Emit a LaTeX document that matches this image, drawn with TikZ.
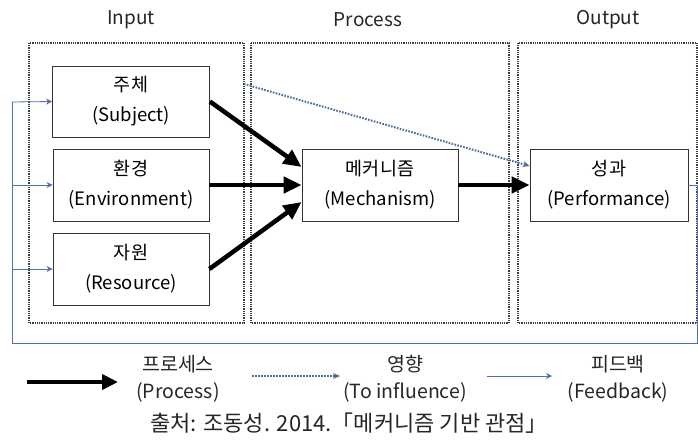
\documentclass[tikz,border=0pt]{standalone}
\usepackage{fontspec}
\setmainfont{Noto Sans CJK KR}
\usetikzlibrary{arrows.meta,calc}
\definecolor{fbblue}{RGB}{84,112,170}
\definecolor{infblue}{RGB}{80,110,155}
\definecolor{framegray}{RGB}{60,60,70}
\tikzset{
  stagebox/.style={draw=framegray,line width=1.5pt,dash pattern=on 1pt off 0.8pt},
  itembox/.style={draw=black!80,line width=0.8pt,fill=white,minimum width=156pt,minimum height=72pt,
    align=center,font=\fontsize{18.5}{30}\selectfont,inner sep=0pt},
  heading/.style={font=\fontsize{19}{22}\selectfont,text=black!85},
  process/.style={line width=4.5pt,-{Triangle[length=18pt,width=16pt]},black},
  influence/.style={infblue,line width=2pt,dash pattern=on 1.6pt off 1.4pt,-{Stealth[length=7pt,width=6pt]}},
  feedback/.style={fbblue,line width=0.8pt},
  feedarrow/.style={feedback,-{Stealth[length=6pt,width=6pt]}},
  legendtext/.style={align=center,font=\fontsize{19.5}{27}\selectfont,text=black!85}
}
\begin{document}
\begin{tikzpicture}[x=1pt,y=-1pt]
\useasboundingbox[fill=white] (0,0) rectangle (698,442);

% stage frames and their headings
\draw[stagebox] (29,43) rectangle (244,323);
\draw[stagebox] (251,43) rectangle (509,323);
\draw[stagebox] (518,43) rectangle (697,323);
\node[heading] (hin) at (131,20) {Input};
\node[heading] (hpro) at (368,20) {Process};
\node[heading] (hout) at (608,20) {Output};

% elements
\node[itembox,minimum width=157pt,minimum height=71pt] (subj) at (131,101.5) {주체\\(Subject)};
\node[itembox] (env) at (131,185) {환경\\(Environment)};
\node[itembox] (res) at (131,269) {자원\\(Resource)};
\node[itembox] (mech) at (380,185) {메커니즘\\(Mechanism)};
\node[itembox,minimum width=158pt] (perf) at (609,185) {성과\\(Performance)};

% process flow
\draw[process] (subj.east) -- ($(mech.west)+(0,-18)$);
\draw[process] (env.east) -- (mech.west);
\draw[process] (res.east) -- ($(mech.west)+(0,17)$);
\draw[process] (mech.east) -- (perf.west);

% influence of the subject on performance
\coordinate (infstart) at (244,84);
\draw[influence] (infstart) -- ($(perf.west)+(0,-19)$);

% feedback loop
\coordinate (fbr) at (697,185);
\coordinate (fbrb) at (697,343);
\coordinate (fblb) at (12,343);
\coordinate (fbl1) at (12,102);
\coordinate (fbl2) at (12,185);
\coordinate (fbl3) at (12,269);
\draw[feedback] (perf.east) -- (fbr) -- (fbrb) -- (fblb) -- (fbl1);
\draw[feedarrow] (fbl1) -- (subj.west);
\draw[feedarrow] (fbl2) -- (env.west);
\draw[feedarrow] (fbl3) -- (res.west);

% legend
\coordinate (lp1) at (27,382);
\coordinate (lp2) at (118,382);
\draw[process,line width=4pt,-{Triangle[length=16pt,width=15pt]}] (lp1) -- (lp2);
\node[legendtext] (lpt) at (178,379) {프로세스\\(Process)};
\coordinate (li1) at (252,376);
\coordinate (li2) at (340,376);
\draw[influence,line width=1.5pt] (li1) -- (li2);
\node[legendtext] (lit) at (405,379) {영향\\(To influence)};
\coordinate (lf1) at (487,376);
\coordinate (lf2) at (552,376);
\draw[feedarrow] (lf1) -- (lf2);
\node[legendtext] (lft) at (618,379) {피드백\\(Feedback)};

% source
\node[font=\fontsize{22}{24}\selectfont,text=black!85] (src) at (349,423) {출처: 조동성. 2014.「메커니즘 기반 관점」};
\end{tikzpicture}
\end{document}
